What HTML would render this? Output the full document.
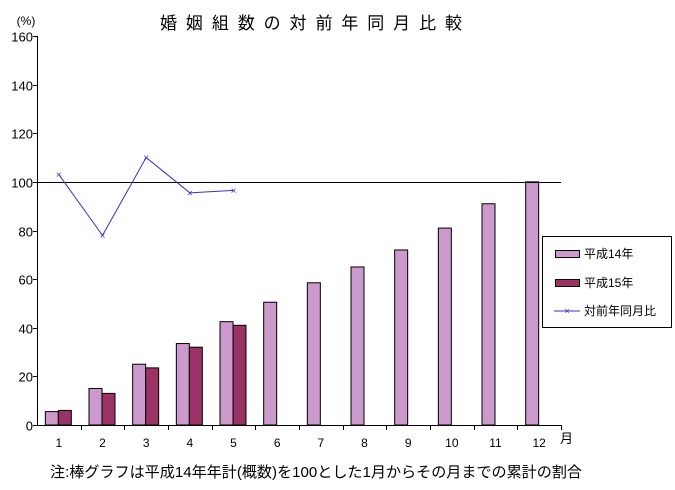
<!DOCTYPE html>
<html><head><meta charset="utf-8"><style>
body{margin:0;background:#fff;}
svg{display:block;font-family:"Liberation Sans","Noto Sans CJK JP",sans-serif;}
</style></head><body>
<svg id="chart" width="675" height="490">
<text x="160" y="29" font-size="17" textLength="302" lengthAdjust="spacing">婚姻組数の対前年同月比較</text>
<text x="26" y="25" font-size="12" text-anchor="middle">(%)</text>
<g id="plot"></g>
<text x="560" y="443" font-size="13">月</text>
<text x="50" y="477" font-size="15" textLength="532" lengthAdjust="spacingAndGlyphs">注:棒グラフは平成14年年計(概数)を100とした1月からその月までの累計の割合</text>
<g>
<rect x="542.5" y="236.5" width="129" height="91" fill="#fff" stroke="#000"/>
<rect x="555.5" y="250.5" width="24" height="7" fill="#cc99cc" stroke="#000"/>
<text x="584" y="258" font-size="12">平成14年</text>
<rect x="555.5" y="279.5" width="24" height="7" fill="#993366" stroke="#000"/>
<text x="584" y="287" font-size="12">平成15年</text>
<line x1="554" y1="311" x2="580" y2="311" stroke="#3333cc"/>
<text x="567" y="314" font-size="9" fill="#3333cc" text-anchor="middle">×</text>
<text x="584" y="315" font-size="12">対前年同月比</text>
</g>
</svg>
<script>
const categories=["1","2","3","4","5","6","7","8","9","10","11","12"];
const h14=[5.5,15,25,33.5,42.5,50.5,58.5,65,72,81,91,100];
const h15=[6,13,23.5,32,41];
const ratio=[103,78,110,95.5,96.5];
const yTicks=[0,20,40,60,80,100,120,140,160];
const NS="http://www.w3.org/2000/svg";
const g=document.getElementById("plot");
const X0=37,X1=561,Y0=425,Y1=36,YMAX=160;
const bw=(X1-X0)/categories.length;
const y=v=>Y0-(v/YMAX)*(Y0-Y1);
const xc=i=>X0+bw*(i+0.5);
function mk(t,a){const e=document.createElementNS(NS,t);for(const k in a)e.setAttribute(k,a[k]);g.appendChild(e);return e;}
h14.forEach((v,i)=>{const e=mk("rect",{x:xc(i)-13.5,y:y(v),width:13,height:Y0-y(v),fill:"#cc99cc",stroke:"#000","stroke-width":1});

});
h15.forEach((v,i)=>{const e=mk("rect",{x:xc(i)-0.5,y:y(v),width:13,height:Y0-y(v),fill:"#993366",stroke:"#000","stroke-width":1});

});
let e=mk("line",{x1:X0+0.5,y1:Y1,x2:X0+0.5,y2:Y0,stroke:"#000"});


e=mk("line",{x1:X0,y1:Y0+0.5,x2:X1,y2:Y0+0.5,stroke:"#000"});


e=mk("line",{x1:X0,y1:Math.round(y(100))+0.5,x2:X1,y2:Math.round(y(100))+0.5,stroke:"#000"});


yTicks.forEach(t=>{const yy=Math.round(y(t))+0.5;
mk("line",{x1:X0-4,y1:yy,x2:X0,y2:yy,stroke:"#000"});
const tx=mk("text",{x:X0-4,y:yy+5,"font-size":13,"text-anchor":"end"});tx.textContent=t;

});
categories.forEach((c,i)=>{const xx=Math.round(X0+bw*(i+1))+0.5;
mk("line",{x1:xx,y1:Y0,x2:xx,y2:Y0+5,stroke:"#000"});
const tx=mk("text",{x:xc(i),y:Y0+22,"font-size":12,"text-anchor":"middle"});tx.textContent=c;

});
const pts=ratio.map((v,i)=>xc(i)+","+y(v)).join(" ");
e=mk("polyline",{points:pts,fill:"none",stroke:"#3333cc","stroke-width":1});


ratio.forEach((v,i)=>{const m=mk("text",{x:xc(i),y:y(v)+3.5,"font-size":10,fill:"#3333cc","text-anchor":"middle"});m.textContent="×";

});
</script>
</body></html>
